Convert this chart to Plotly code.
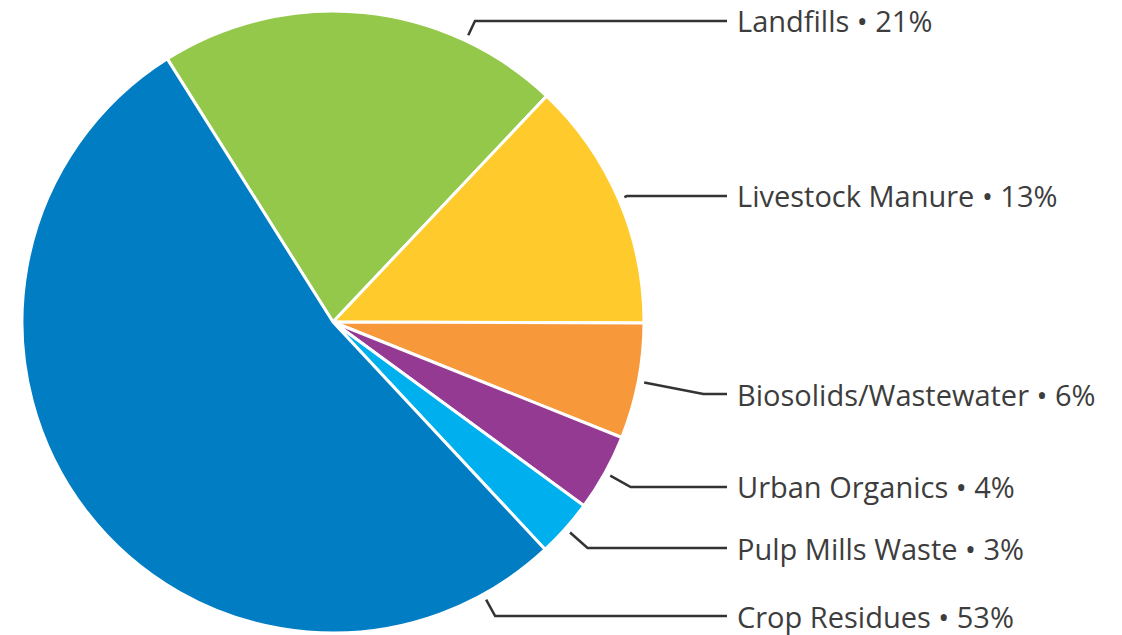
import math
import plotly.graph_objects as go

# Sources and their share of the total (percent)
labels = ["Landfills", "Livestock Manure", "Biosolids/Wastewater",
          "Urban Organics", "Pulp Mills Waste", "Crop Residues"]
values = [21, 13, 6, 4, 3, 53]
colors = ["#94C84A", "#FFCA2B", "#F7993A", "#953A92", "#00B0EE", "#007DC3"]

# Layout of the canvas and the callout labels
W, H = 1122, 635
CX, CY, R = 333, 322, 311          # pie centre and radius in px
ROTATION = -32.2                   # first slice starts left of 12 o'clock
label_rows = [21, 196, 394, 487, 548, 616]   # callout row (px from top)
anchor_frac = [0.76, 0.5, 0.5, 0.5, 0.5, 0.074]  # where the leader touches the slice
LINE_END_X = 727
TEXT_X = 735
GAP = 6

fig = go.Figure(go.Pie(
    labels=labels, values=values, sort=False, direction="clockwise",
    rotation=ROTATION, textinfo="none", hoverinfo="label+percent",
    marker=dict(colors=colors, line=dict(color="white", width=3)),
    domain=dict(x=[(CX - R) / W, (CX + R) / W],
                y=[1 - (CY + R) / H, 1 - (CY - R) / H]),
    showlegend=False,
))

def to_paper(px, py):
    return px / W, 1 - py / H

total = sum(values)
start = ROTATION
shapes, annotations = [], []
for lab, val, row, frac in zip(labels, values, label_rows, anchor_frac):
    span = 360 * val / total
    ang = math.radians(start + span * frac)
    start += span
    dx, dy = math.sin(ang), -math.cos(ang)
    ax, ay = CX + (R + GAP) * dx, CY + (R + GAP) * dy
    # extend radially until the callout row is reached
    t = (row - ay) / dy if abs(dy) > 1e-6 else 0
    ex, ey = ax + t * dx, row
    pts = [to_paper(ax, ay), to_paper(ex, ey), to_paper(LINE_END_X, row)]
    path = "M {} {} L {} {} L {} {}".format(*[c for p in pts for c in p])
    shapes.append(dict(type="path", xref="paper", yref="paper", path=path,
                       line=dict(color="#333333", width=2.5)))
    tx, ty = to_paper(TEXT_X, row)
    annotations.append(dict(x=tx, y=ty, xref="paper", yref="paper",
                            text=f"{lab} \u2022 {round(100 * val / total)}%",
                            showarrow=False, xanchor="left", yanchor="middle",
                            font=dict(family="Open Sans", size=29, color="#3d3d3d")))

fig.update_layout(width=W, height=H, autosize=False,
                  margin=dict(l=0, r=0, t=0, b=0),
                  paper_bgcolor="white", plot_bgcolor="white",
                  shapes=shapes, annotations=annotations)

fig.write_html("out.html")
